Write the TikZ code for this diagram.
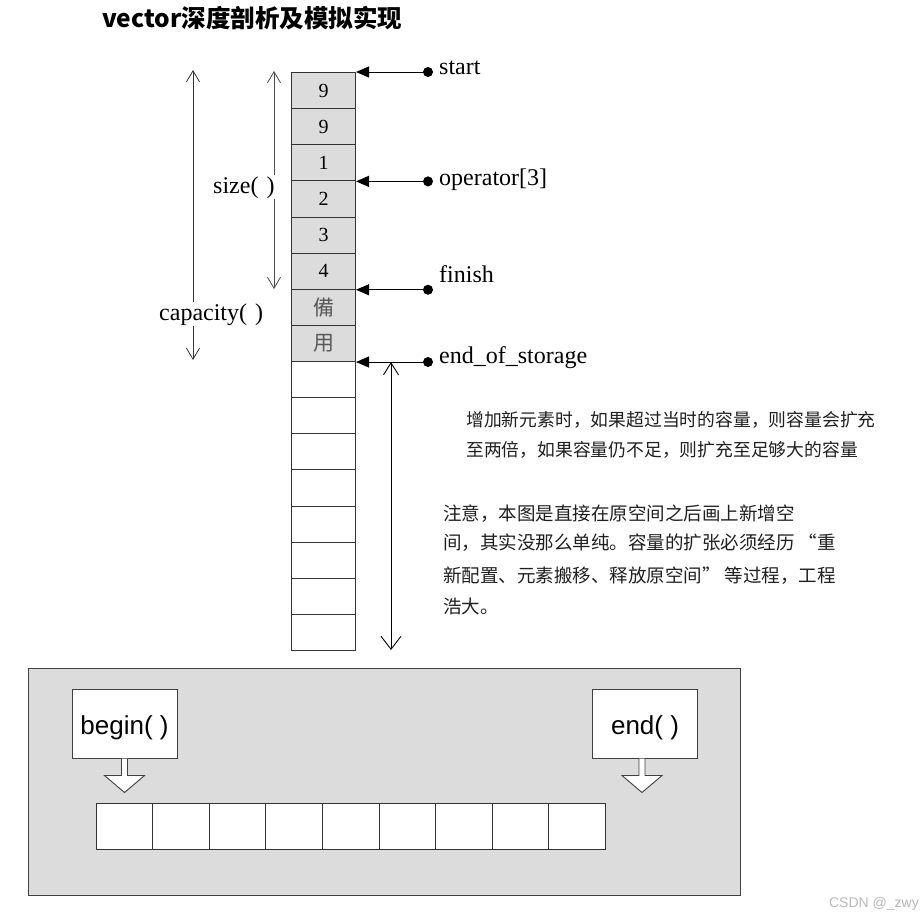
\documentclass[tikz,border=0pt]{standalone}
\usepackage{fontspec}
\setmainfont{Liberation Serif}
\newfontfamily\cjk{Noto Sans CJK SC}
\newfontfamily\cjktc{Noto Sans CJK TC}
\newfontfamily\arial{Liberation Sans}
\usetikzlibrary{arrows.meta,calc}
\definecolor{cellgray}{HTML}{DCDCDC}
\begin{document}
\begin{tikzpicture}[x=1pt,y=-1pt,
  cell/.style={draw=black!80,line width=1pt,minimum width=64pt,minimum height=36.125pt,inner sep=0pt,anchor=north west,font=\fontsize{20}{20}\selectfont},
  fcell/.style={cell,fill=cellgray},
  cjkcell/.style={fcell,text=black!65,font=\cjktc\fontsize{21}{21}\selectfont},
  ptr/.style={line width=1pt,-{Triangle[length=13pt,width=11pt]}},
  dimarrow/.style={line width=0.8pt,{Straight Barb[length=11pt,width=13pt]}-{Straight Barb[length=11pt,width=13pt]}},
  lbl/.style={font=\fontsize{24}{24}\selectfont,inner sep=0pt,anchor=base west},
  note/.style={font=\cjk\fontsize{18.5}{18.5}\selectfont,text=black!88,inner sep=0pt,anchor=base west},
  notea/.style={note,font=\cjk\fontsize{17.8}{17.8}\selectfont},
  bcell/.style={draw=black!80,fill=white,line width=1pt,minimum width=56.6pt,minimum height=46pt,inner sep=0pt,anchor=north west},
  ibox/.style={draw=black!75,fill=white,line width=1pt,minimum width=105pt,minimum height=69pt,inner sep=0pt,text height=28pt,text depth=5.5pt,font=\arial\fontsize{26}{26}\selectfont},
  hollow/.style={draw=black!75,fill=white,line width=0.9pt,line join=miter}
]
\useasboundingbox (0,0) rectangle (924,919);

% title
\node[anchor=west,inner sep=0pt,font=\cjk\bfseries\fontsize{24.5}{24.5}\selectfont] (title) at (102,18) {vector深度剖析及模拟实现};

% column of cells
\foreach \i/\t in {1/9,2/9,3/1,4/2,5/3,6/4}
  \node[fcell] (c\i) at (291,{72+36.125*(\i-1)}) {\t};
\node[cjkcell] (c7) at (291,{72+36.125*6}) {備};
\node[cjkcell] (c8) at (291,{72+36.125*7}) {用};
\foreach \i in {9,...,16}
  \node[cell,fill=white] (c\i) at (291,{72+36.125*(\i-1)}) {};

% pointers
\coordinate (d1) at ($(c1.north east)+(72,0)$);
\coordinate (d2) at ($(c3.south east)+(72,0)$);
\coordinate (d3) at ($(c6.south east)+(72,0)$);
\coordinate (d4) at ($(c8.south east)+(72,0)$);
\draw[ptr] (d1) -- (c1.north east);
\draw[ptr] (d2) -- (c3.south east);
\draw[ptr] (d3) -- (c6.south east);
\draw[ptr] (d4) -- (c8.south east);
\foreach \d in {d1,d2,d3,d4} \fill (\d) circle (5pt);
\node[lbl] (lstart) at (439,74) {start};
\node[lbl] (lop) at (439,185) {operator[3]};
\node[lbl] (lfin) at (439,282) {finish};
\node[lbl] (leos) at (439,363) {end\_of\_storage};

% size and capacity
\coordinate (s1) at (274,71);
\coordinate (s2) at (274,289);
\draw[dimarrow,black!70] (s1) -- (s2);
\coordinate (k1) at (193,70);
\coordinate (k2) at (193,360);
\draw[dimarrow,black!80] (k1) -- (k2);
\node[lbl,fill=white,inner sep=1pt] (lsize) at (212,193) {size(\,\,)};
\node[lbl,fill=white,inner sep=1pt] (lcap) at (158,320) {capacity(\,\,)};

% growth arrow
\coordinate (g1) at (391,362);
\coordinate (g2) at (391,650);
\draw[line width=0.9pt,{Straight Barb[length=12pt,width=15pt]}-{Straight Barb[length=13pt,width=20pt]}] (g1) -- (g2);

% notes
\node[notea] (n1) at (466,426) {增加新元素时，如果超过当时的容量，则容量会扩充};
\node[notea] (n2) at (466,456) {至两倍，如果容量仍不足，则扩充至足够大的容量};
\node[note] (m1) at (443,520) {注意，本图是直接在原空间之后画上新增空};
\node[note] (m2) at (443,549) {间，其实没那么单纯。容量的扩张必须经历 “重};
\node[note] (m3) at (443,582) {新配置、元素搬移、释放原空间” 等过程，工程};
\node[note] (m4) at (443,613) {浩大。};

% bottom panel
\node[draw=black!75,fill=cellgray,line width=1.2pt,minimum width=712pt,minimum height=227pt,inner sep=0pt,anchor=north west] (panel) at (28,668) {};
\node[ibox] (bg) at (124.5,723.5) {begin( )};
\node[ibox] (en) at (645,723.5) {end( )};
\draw[hollow] ([xshift=-3pt]bg.south) -- ++(0,17) -- ++(-17,0) -- ++(20,17) -- ++(20,-17) -- ++(-17,0) -- ([xshift=3pt]bg.south);
\draw[hollow] ([xshift=-6pt]en.south) -- ++(0,17) -- ++(-17,0) -- ++(20,17) -- ++(20,-17) -- ++(-17,0) -- ([xshift=0pt]en.south);
\foreach \i in {1,...,9}
  \node[bcell] (b\i) at ({95.5+56.6*(\i-1)},803) {};

% watermark
\node[anchor=east,inner sep=0pt,text=black!28,font=\arial\fontsize{14}{14}\selectfont] (wm) at (919,904) {CSDN @\_zwy};
\end{tikzpicture}
\end{document}
